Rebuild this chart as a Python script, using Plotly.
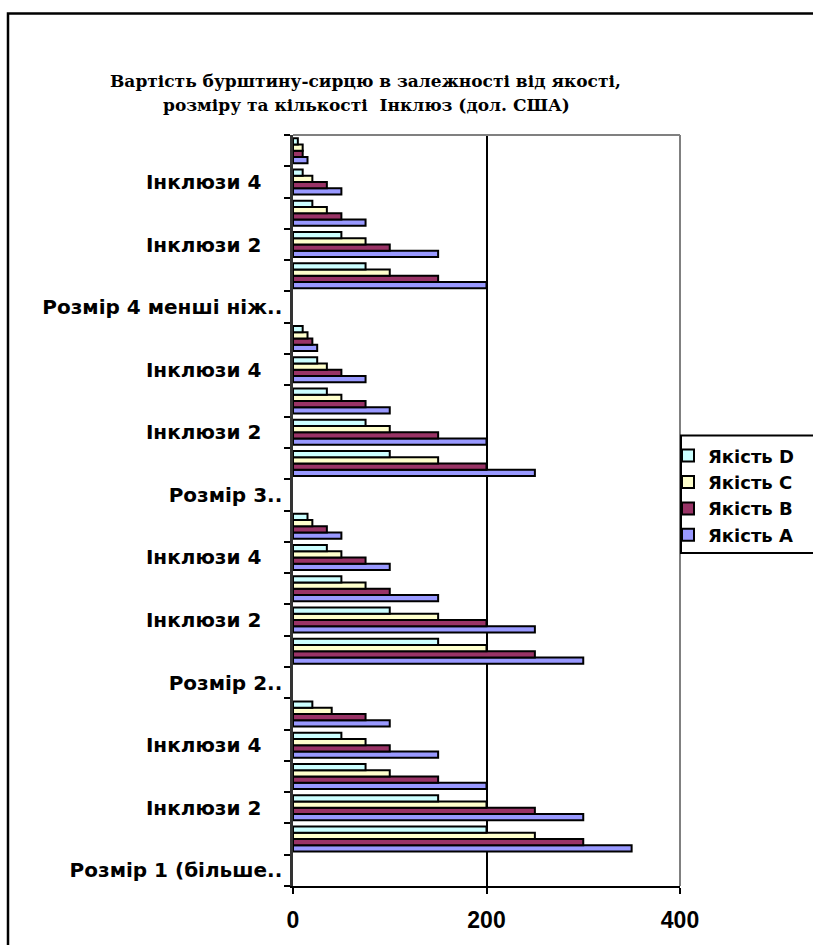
import plotly.graph_objects as go

# Category rows, bottom to top: a size header followed by five inclusion rows
categories = [
    "Розмір 1 (більше..", "Інклюзи 1", "Інклюзи 2", "Інклюзи 3", "Інклюзи 4", "Інклюзи 5",
    "Розмір 2..", "Інклюзи 1", "Інклюзи 2", "Інклюзи 3", "Інклюзи 4", "Інклюзи 5",
    "Розмір 3..", "Інклюзи 1", "Інклюзи 2", "Інклюзи 3", "Інклюзи 4", "Інклюзи 5",
    "Розмір 4 менші ніж..", "Інклюзи 1", "Інклюзи 2", "Інклюзи 3", "Інклюзи 4", "Інклюзи 5",
]

# Prices (USD) per quality grade; header rows carry no value
quality_a = [None, 350, 300, 200, 150, 100,
             None, 300, 250, 150, 100, 50,
             None, 250, 200, 100, 75, 25,
             None, 200, 150, 75, 50, 15]
quality_b = [None, 300, 250, 150, 100, 75,
             None, 250, 200, 100, 75, 35,
             None, 200, 150, 75, 50, 20,
             None, 150, 100, 50, 35, 10]
quality_c = [None, 250, 200, 100, 75, 40,
             None, 200, 150, 75, 50, 20,
             None, 150, 100, 50, 35, 15,
             None, 100, 75, 35, 20, 10]
quality_d = [None, 200, 150, 75, 50, 20,
             None, 150, 100, 50, 35, 15,
             None, 100, 75, 35, 25, 10,
             None, 75, 50, 20, 10, 5]

series_names = ["Якість A", "Якість B", "Якість C", "Якість D"]
series_values = [quality_a, quality_b, quality_c, quality_d]
series_colors = ["#9999FF", "#993366", "#FFFFCC", "#CCFFFF"]

x_ticks = [0, 200, 400]
title_lines = ["Вартість бурштину-сирцю в залежності від якості,",
               "розміру та кількості  Інклюз (дол. США)"]

rows = list(range(len(categories)))

fig = go.Figure()
n_series = len(series_names)
for i, (name, vals, col) in enumerate(zip(series_names, series_values, series_colors)):
    fig.add_trace(go.Bar(
        x=vals, y=rows, orientation="h", name=name, legendgroup=name,
        legendrank=n_series - i,  # grade D listed first
        marker=dict(color=col, line=dict(color="black", width=2)),
    ))

W, H = 813, 945
ML, MR, MT, MB = 293, 133, 135, 50
PW, PH = W - ML - MR, H - MT - MB


def px_x(px):
    return (px - ML) / PW


def px_y(py):
    return (H - MB - py) / PH


# Every second row is labelled; inclusion labels sit a little away from the axis
def row_label(text):
    return text + "\u00a0\u00a0\u00a0" if text.startswith("Інклюзи") else text


tick_rows = rows[::2]
tick_text = [row_label(categories[r]) for r in tick_rows]

label_font = dict(family="DejaVu Sans", size=20, color="black", weight="bold")

fig.update_layout(
    width=W, height=H,
    margin=dict(l=ML, r=MR, t=MT, b=MB, pad=0),
    paper_bgcolor="white", plot_bgcolor="white",
    barmode="group", bargap=0.2, bargroupgap=0,
    showlegend=True,
    legend=dict(
        x=px_x(668), y=px_y(441), xanchor="left", yanchor="top",
        traceorder="grouped", tracegroupgap=0,
        font=dict(family="DejaVu Sans", size=18, color="black", weight="bold"),
        bgcolor="rgba(0,0,0,0)", borderwidth=0,
    ),
    xaxis=dict(
        range=[0, 400], tickmode="array", tickvals=x_ticks,
        ticks="outside", ticklen=6, tickwidth=2, tickcolor="black",
        ticklabelstandoff=6,
        tickfont=dict(family="Liberation Sans", size=23, color="black", weight="bold"),
        showgrid=True, gridcolor="black", gridwidth=2,
        zeroline=False, showline=True, linecolor="black", linewidth=2,
    ),
    yaxis=dict(
        range=[-0.5, len(categories) - 0.5],
        tickmode="array", tickvals=tick_rows, ticktext=tick_text,
        ticks="outside", ticklen=0, ticklabelstandoff=4,
        tickfont=label_font,
        minor=dict(tickmode="array", tickvals=[r - 0.5 for r in rows] + [len(rows) - 0.5],
                   ticks="outside", ticklen=6, tickwidth=2, tickcolor="black", showgrid=False),
        showgrid=False, zeroline=False,
        showline=True, linecolor="#333333", linewidth=2.5,
    ),
    shapes=[
        # plot area frame (top and right edges)
        dict(type="line", xref="paper", yref="paper", x0=0, x1=1, y0=1, y1=1,
             line=dict(color="#808080", width=2), layer="above"),
        dict(type="line", xref="paper", yref="paper", x0=1, x1=1, y0=0, y1=1,
             line=dict(color="#808080", width=2), layer="above"),
        # chart frame
        dict(type="rect", xref="paper", yref="paper",
             x0=px_x(8), x1=px_x(900), y0=px_y(1000), y1=px_y(12),
             line=dict(color="black", width=2.5), fillcolor="rgba(0,0,0,0)", layer="below"),
        # legend frame
        dict(type="rect", xref="paper", yref="paper",
             x0=px_x(681), x1=px_x(900), y0=px_y(558), y1=px_y(439),
             line=dict(color="black", width=2), fillcolor="white", layer="above"),
    ],
    annotations=[
        dict(text=title_lines[0], xref="paper", yref="paper", x=px_x(365), y=px_y(80),
             xanchor="center", yanchor="middle", showarrow=False,
             font=dict(family="DejaVu Serif", size=17, color="black", weight="bold")),
        dict(text=title_lines[1], xref="paper", yref="paper", x=px_x(366), y=px_y(105),
             xanchor="center", yanchor="middle", showarrow=False,
             font=dict(family="DejaVu Serif", size=17, color="black", weight="bold")),
    ],
)

fig.write_html("out.html")
